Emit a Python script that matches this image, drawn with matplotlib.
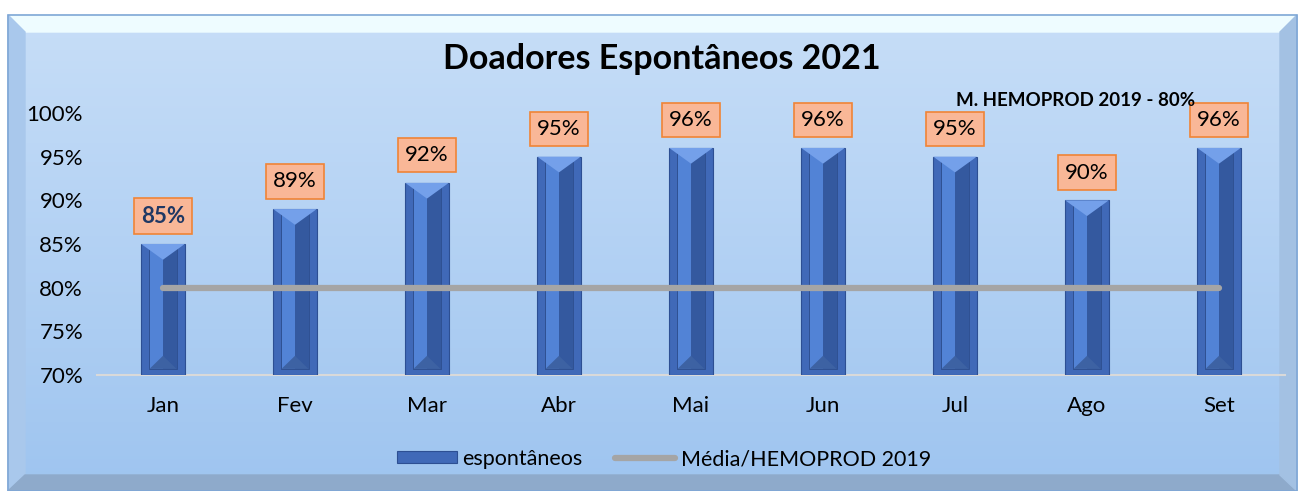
import numpy as np
import matplotlib.pyplot as plt
from matplotlib.patches import Polygon, Rectangle

# dados
meses = ['Jan', 'Fev', 'Mar', 'Abr', 'Mai', 'Jun', 'Jul', 'Ago', 'Set']
espontaneos = [85, 89, 92, 95, 96, 96, 95, 90, 96]
media_2019 = [80, 80, 80, 80, 80, 80, 80, 80, 80]
rotulos = ['85%', '89%', '92%', '95%', '96%', '96%', '95%', '90%', '96%']
yticks = [70, 75, 80, 85, 90, 95, 100]

plt.rcParams['font.family'] = ['Lato', 'DejaVu Sans']

W, H = 1301, 491
fig = plt.figure(figsize=(W / 100, H / 100), dpi=100)

# fundo com moldura chanfrada
bg = fig.add_axes([0, 0, 1, 1])
bg.set_xlim(0, W)
bg.set_ylim(H, 0)
bg.axis('off')
grad = np.linspace(0, 1, 256).reshape(-1, 1)
top_c = np.array([0.78, 0.87, 0.97])
bot_c = np.array([0.62, 0.77, 0.94])
img = top_c + grad[..., None] * (bot_c - top_c)
bg.imshow(img, extent=[8, 1297, 491, 15], aspect='auto', zorder=0)
# chanfros
bg.add_patch(Polygon([[8, 15], [1297, 15], [1280, 32], [25, 32]], color='#eefcff', zorder=1))
bg.add_patch(Polygon([[8, 15], [25, 32], [25, 475], [8, 491]], color='#a9c8ec', zorder=1))
bg.add_patch(Polygon([[8, 491], [25, 475], [1280, 475], [1297, 491]], color='#8eaacb', zorder=1))
bg.add_patch(Polygon([[1297, 15], [1280, 32], [1280, 475], [1297, 491]], color='#a3c1e3', zorder=1))
bg.add_patch(Rectangle((8, 15), 1289, 476, fill=False, ec='#7fa7d6', lw=1.2, zorder=2))

ax = fig.add_axes([97 / W, 1 - 375 / H, (1285 - 97) / W, (375 - 113) / H])
ax.patch.set_alpha(0)
x = np.arange(len(meses))

# barras com efeito chanfrado
bw = 0.33
barras = ax.bar(x, np.array(espontaneos) - 70, bottom=70, width=bw, color='#4069b8',
                edgecolor='#2d4f93', lw=0.8, zorder=3, label='espontâneos')
ax.bar(x, np.array(espontaneos) - 71.3, bottom=70.7, width=bw * 0.62, color='#5283d6',
       edgecolor='#2a4a8a', lw=0.6, zorder=4)
ax.bar(x + bw * 0.155, np.array(espontaneos) - 71.3, bottom=70.7, width=bw * 0.31,
       color='#34599f', lw=0, zorder=4)
for xi, v in zip(x, espontaneos):
    ax.add_patch(Polygon([[xi - bw / 2, v], [xi + bw / 2, v], [xi, v - 1.8]],
                         color='#74a0ea', zorder=5, lw=0))
    ax.add_patch(Polygon([[xi - bw * 0.31, 70.7], [xi + bw * 0.31, 70.7], [xi, 72.2]],
                         color='#3d62a3', zorder=5, lw=0))

linha, = ax.plot(x, media_2019, color='#a5a5a5', lw=4.5, solid_capstyle='round', zorder=6,
                 label='Média/HEMOPROD 2019')

# rótulos
for i, (xi, v, r) in enumerate(zip(x, espontaneos, rotulos)):
    ax.annotate(r, (xi, v), xytext=(0, 20), textcoords='offset points', ha='center',
                va='center', fontsize=16, color='#1f3864' if i == 0 else 'black',
                fontweight='bold' if i == 0 else 'normal', zorder=7,
                bbox=dict(boxstyle='square,pad=0.33', fc='#f9b797', ec='#f08436', lw=1.2))

ax.text(6.91, 101.4, 'M. HEMOPROD 2019 - 80%', ha='center', va='center', fontsize=13.5,
        fontweight='bold', zorder=8)

ax.set_xlim(-0.5, len(meses) - 0.5)
ax.set_ylim(70, 100)
ax.set_yticks(yticks)
ax.set_yticklabels([f'{t}%' for t in yticks])
ax.set_xticks(x)
ax.set_xticklabels(meses)
ax.tick_params(length=0, labelsize=16)
ax.tick_params(axis='x', pad=15)
ax.tick_params(axis='y', pad=10)
for s in ['top', 'right', 'left']:
    ax.spines[s].set_visible(False)
ax.spines['bottom'].set_color('#d9d9d9')
ax.spines['bottom'].set_linewidth(1.5)

fig.text(661.5 / W, 1 - 59 / H, 'Doadores Espontâneos 2021', ha='center', va='center',
         fontsize=24.5, fontweight='bold')

fig.legend([barras, linha], ['espontâneos', 'Média/HEMOPROD 2019'], loc='center',
           bbox_to_anchor=(664 / W, 1 - 459 / H), ncol=2, frameon=False,
           fontsize=15.5, handlelength=2.8, handleheight=0.5, columnspacing=1.5,
           handletextpad=0.25)

fig.savefig('out.png', dpi=100)
